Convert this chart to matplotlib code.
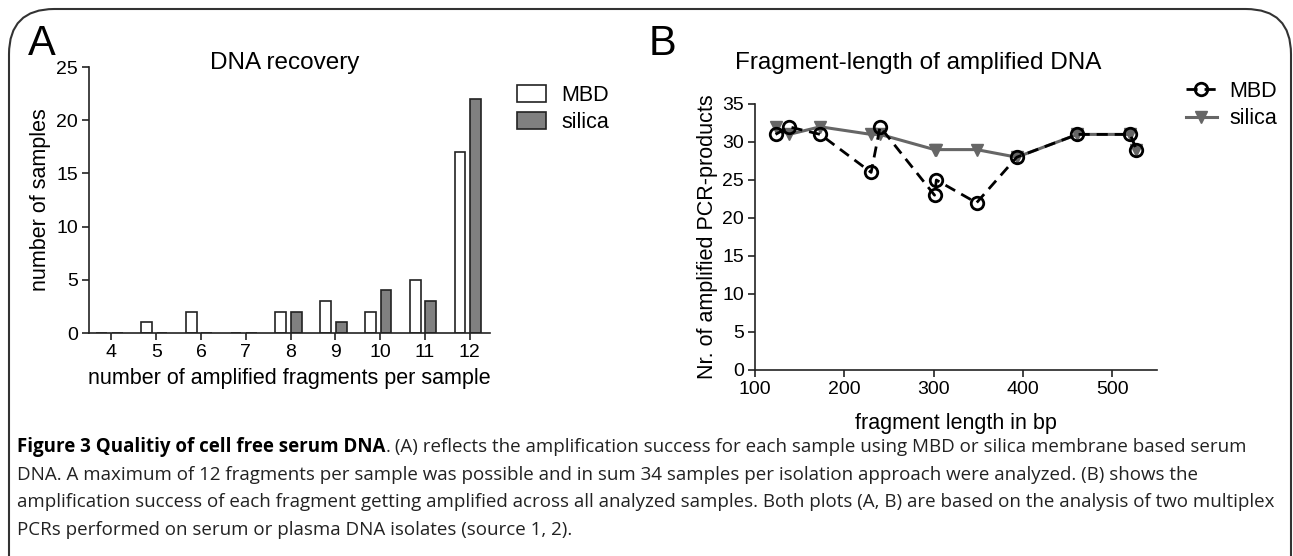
import numpy as np
import matplotlib
matplotlib.use("Agg")
from matplotlib import pyplot as plt
from matplotlib.patches import FancyBboxPatch

plt.rcParams["font.family"] = ["Liberation Sans", "DejaVu Sans"]

# panel A data
n_fragments = [4, 5, 6, 7, 8, 9, 10, 11, 12]
mbd_counts = [0, 1, 2, 0, 2, 3, 2, 5, 17]
silica_counts = [0, 0, 0, 0, 2, 1, 4, 3, 22]

# panel B data
frag_len = [123, 138, 173, 230, 240, 301, 303, 348, 393, 461, 520, 527]
mbd_products = [31, 32, 31, 26, 32, 23, 25, 22, 28, 31, 31, 29]
silica_products = [32, 31, 32, 31, 31, 29, 29, 29, 28, 31, 31, 29]

W, H = 1293, 556
fig = plt.figure(figsize=(W / 100, H / 100), dpi=100)

def px_axes(left, top, right, bottom):
    return fig.add_axes([left / W, 1 - bottom / H, (right - left) / W, (bottom - top) / H])

def style_axes(ax):
    for s in ["top", "right"]:
        ax.spines[s].set_visible(False)
    for s in ["left", "bottom"]:
        ax.spines[s].set_linewidth(1.2)
        ax.spines[s].set_color("#222222")
    ax.tick_params(direction="out", length=5, width=1.2, labelsize=14, color="#222222", pad=3)

# frame around the whole figure
frame = FancyBboxPatch((9 / W, -0.1), (1282 / W), (1 - 9 / H) + 0.1,
                       boxstyle="round,pad=0,rounding_size=0.035", transform=fig.transFigure,
                       facecolor="none", edgecolor="#333333", linewidth=1.5, mutation_aspect=W / H)
fig.patches.append(frame)

# ---- panel A
axA = px_axes(89, 67, 490, 333)
x = np.array(n_fragments)
w = 0.24
axA.bar(x - 0.22, mbd_counts, width=w, color="white", edgecolor="#222222", linewidth=1.2, label="MBD")
axA.bar(x + 0.13, silica_counts, width=w, color="#808080", edgecolor="#222222", linewidth=1.2, label="silica")
axA.set_xlim(3.5, 12.45)
axA.set_ylim(0, 25)
axA.set_xticks(n_fragments)
axA.set_yticks(range(0, 26, 5))
style_axes(axA)
axA.set_xlabel("number of amplified fragments per sample", fontsize=15.5, labelpad=5)
axA.set_ylabel("number of samples", fontsize=15.5, labelpad=4)
axA.legend(loc="upper left", bbox_to_anchor=(1.03, 0.99), frameon=False, fontsize=15.5,
           handlelength=1.35, handleheight=0.85, handletextpad=0.7, labelspacing=0.3,
           borderaxespad=0.3)
fig.text(285 / W, 1 - 63 / H, "DNA recovery", ha="center", va="center", fontsize=17.5)
fig.text(42 / W, 1 - 44 / H, "A", ha="center", va="center", fontsize=30)

# ---- panel B
axB = px_axes(755, 104, 1157, 370)
axB.plot(frag_len, silica_products, color="#666666", linewidth=2.2, marker="v",
         markersize=8, markeredgecolor="#666666", label="silica")
axB.plot(frag_len, mbd_products, color="black", linewidth=2, linestyle=(0, (4, 2.5)),
         marker="o", markersize=9, markerfacecolor="none", markeredgewidth=2, label="MBD")
axB.set_xlim(100, 550)
axB.set_ylim(0, 35)
axB.set_xticks(range(100, 501, 100))
axB.set_yticks(range(0, 36, 5))
style_axes(axB)
axB.set_xlabel("fragment length in bp", fontsize=15.5, labelpad=11)
axB.set_ylabel("Nr. of amplified PCR-products", fontsize=15.5, labelpad=3)
h, l = axB.get_legend_handles_labels()
axB.legend(h[::-1], l[::-1], loc="upper left", bbox_to_anchor=(1.025, 1.16), frameon=False,
           fontsize=15.5, handlelength=1.4, handletextpad=0.6, labelspacing=0.3)
fig.text(918 / W, 1 - 63 / H, "Fragment-length of amplified DNA", ha="center", va="center", fontsize=17.5)
fig.text(662 / W, 1 - 44 / H, "B", ha="center", va="center", fontsize=30)

# ---- caption
cap_font = ["Open Sans", "DejaVu Sans"]
cap_size = 13.5
lines = [
    (" (A) reflects the amplification success for each sample using MBD or silica membrane based serum", True),
    ("DNA. A maximum of 12 fragments per sample was possible and in sum 34 samples per isolation approach were analyzed. (B) shows the", False),
    ("amplification success of each fragment getting amplified across all analyzed samples. Both plots (A, B) are based on the analysis of two multiplex", False),
    ("PCRs performed on serum or plasma DNA isolates (source 1, 2).", False),
]
y0 = 447
renderer = fig.canvas.get_renderer()
for i, (txt, first) in enumerate(lines):
    yy = 1 - (y0 + i * 27.6) / H
    xx = 17 / W
    if first:
        b = fig.text(xx, yy, "Figure 3 Qualitiy of cell free serum DNA", fontsize=cap_size,
                     fontweight="bold", family=cap_font, va="center", color="black")
        bb = b.get_window_extent(renderer)
        dot = fig.text(bb.x1 / W, yy, ".", fontsize=cap_size, family=cap_font, va="center", color="#222222")
        bb = dot.get_window_extent(renderer)
        xx = bb.x1 / W
    fig.text(xx, yy, txt, fontsize=cap_size, family=cap_font, va="center", color="#222222")

fig.savefig("out.png", dpi=100)
